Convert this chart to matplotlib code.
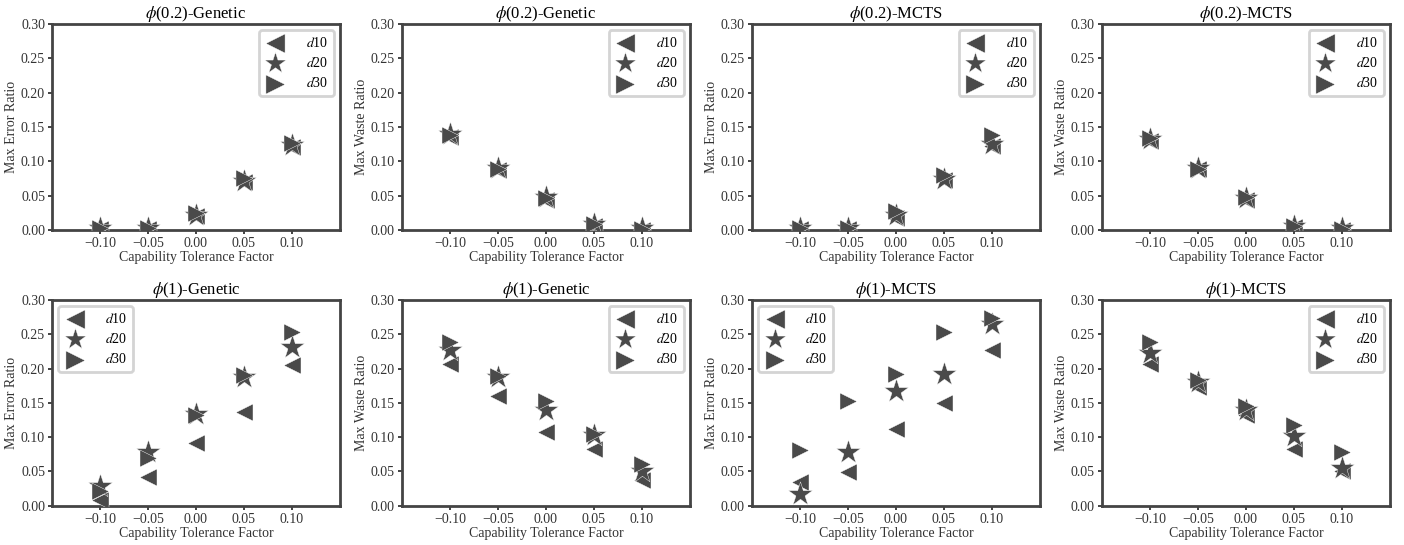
import matplotlib
matplotlib.use("Agg")
import matplotlib.pyplot as plt

plt.rcParams["font.family"] = ["Liberation Serif", "DejaVu Serif"]
plt.rcParams["mathtext.fontset"] = "stix"

# x positions (capability tolerance factor)
tolerance = [-0.10, -0.05, 0.00, 0.05, 0.10]
series_names = ["$d$10", "$d$20", "$d$30"]
markers = ["<", "*", ">"]
marker_sizes = [150, 330, 150]

titles = [
    r"$\phi$(0.2)-Genetic", r"$\phi$(0.2)-Genetic", r"$\phi$(0.2)-MCTS", r"$\phi$(0.2)-MCTS",
    r"$\phi$(1)-Genetic", r"$\phi$(1)-Genetic", r"$\phi$(1)-MCTS", r"$\phi$(1)-MCTS",
]
ylabels = ["Max Error Ratio", "Max Waste Ratio"] * 4
legend_locs = ["upper right", "upper right", "upper right", "upper right",
               "upper left", "upper right", "upper left", "upper right"]

# phi(0.2) - Genetic
err_g02_d10 = [0.001, 0.001, 0.020, 0.070, 0.121]
err_g02_d20 = [0.002, 0.002, 0.022, 0.071, 0.124]
err_g02_d30 = [0.002, 0.002, 0.025, 0.075, 0.127]
wst_g02_d10 = [0.135, 0.087, 0.044, 0.005, 0.000]
wst_g02_d20 = [0.140, 0.090, 0.048, 0.008, 0.002]
wst_g02_d30 = [0.138, 0.088, 0.046, 0.008, 0.001]
# phi(0.2) - MCTS
err_m02_d10 = [0.001, 0.001, 0.018, 0.072, 0.122]
err_m02_d20 = [0.002, 0.002, 0.022, 0.074, 0.125]
err_m02_d30 = [0.002, 0.002, 0.027, 0.080, 0.138]
wst_m02_d10 = [0.130, 0.088, 0.044, 0.004, 0.000]
wst_m02_d20 = [0.133, 0.090, 0.047, 0.006, 0.002]
wst_m02_d30 = [0.134, 0.089, 0.048, 0.006, 0.001]
# phi(1) - Genetic
err_g1_d10 = [0.009, 0.042, 0.091, 0.137, 0.205]
err_g1_d20 = [0.029, 0.079, 0.134, 0.188, 0.231]
err_g1_d30 = [0.022, 0.069, 0.132, 0.190, 0.253]
wst_g1_d10 = [0.206, 0.160, 0.107, 0.082, 0.037]
wst_g1_d20 = [0.227, 0.187, 0.140, 0.103, 0.050]
wst_g1_d30 = [0.238, 0.189, 0.153, 0.105, 0.061]
# phi(1) - MCTS
err_m1_d10 = [0.034, 0.049, 0.112, 0.150, 0.227]
err_m1_d20 = [0.017, 0.078, 0.167, 0.192, 0.265]
err_m1_d30 = [0.081, 0.153, 0.192, 0.253, 0.274]
wst_m1_d10 = [0.206, 0.173, 0.132, 0.082, 0.050]
wst_m1_d20 = [0.222, 0.180, 0.140, 0.101, 0.055]
wst_m1_d30 = [0.238, 0.183, 0.145, 0.118, 0.078]

panels = [
    [err_g02_d10, err_g02_d20, err_g02_d30],
    [wst_g02_d10, wst_g02_d20, wst_g02_d30],
    [err_m02_d10, err_m02_d20, err_m02_d30],
    [wst_m02_d10, wst_m02_d20, wst_m02_d30],
    [err_g1_d10, err_g1_d20, err_g1_d30],
    [wst_g1_d10, wst_g1_d20, wst_g1_d30],
    [err_m1_d10, err_m1_d20, err_m1_d30],
    [wst_m1_d10, wst_m1_d20, wst_m1_d30],
]

mark_color = "#4a4a4a"
spine_color = "#444444"

fig, axes = plt.subplots(2, 4, figsize=(14.04, 5.45), dpi=100)
fig.subplots_adjust(left=0.037, right=0.99, top=0.956, bottom=0.072,
                    wspace=0.215, hspace=0.34)

for i, ax in enumerate(axes.flat):
    for vals, mk, ms, name in zip(panels[i], markers, marker_sizes, series_names):
        ax.scatter(tolerance, vals, marker=mk, s=ms, color=mark_color,
                   edgecolors="white", linewidths=0.3, label=name, zorder=3)
    ax.set_xlim(-0.15, 0.15)
    ax.set_ylim(0, 0.30)
    ax.set_xticks(tolerance)
    ax.set_xticklabels(["\u22120.10", "\u22120.05", "0.00", "0.05", "0.10"])
    ax.set_yticks([0, 0.05, 0.10, 0.15, 0.20, 0.25, 0.30])
    ax.set_yticklabels(["0.00", "0.05", "0.10", "0.15", "0.20", "0.25", "0.30"])
    ax.tick_params(labelsize=10, length=3, width=1.2, color="#222222",
                   labelcolor="#333333", pad=2)
    for sp in ax.spines.values():
        sp.set_color(spine_color)
        sp.set_linewidth(2.0)
    ax.set_title(titles[i], fontsize=12, pad=3)
    ax.set_ylabel(ylabels[i], fontsize=10, color="#333333", labelpad=2)
    ax.set_xlabel("Capability Tolerance Factor", fontsize=10, color="#333333", labelpad=1)
    leg = ax.legend(loc=legend_locs[i], fontsize=10, handletextpad=1.4,
                    borderpad=0.4, labelspacing=0.45, framealpha=1,
                    borderaxespad=0.45, handlelength=1.6)
    for h, hs in zip(leg.legend_handles, [190, 260, 190]):
        h.set_sizes([hs])
    leg.get_frame().set_edgecolor("#d4d4d4")
    leg.get_frame().set_linewidth(2.0)

plt.savefig("out.png", dpi=100)
